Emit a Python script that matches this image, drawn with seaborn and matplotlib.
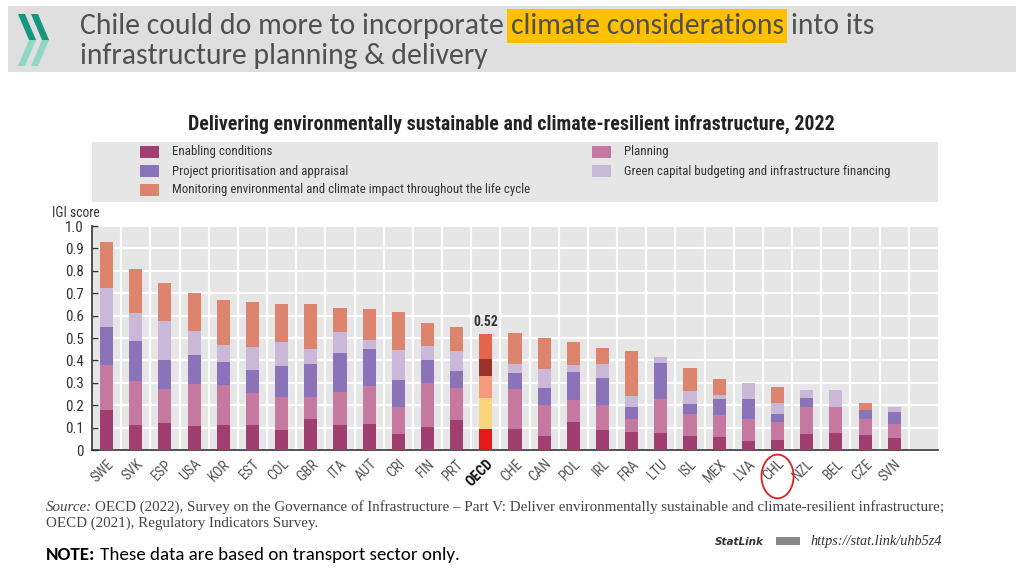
import numpy as np
import pandas as pd
import matplotlib
matplotlib.use("Agg")
import matplotlib.pyplot as plt
import matplotlib.font_manager as fm
from matplotlib.patches import Rectangle, Polygon, Ellipse
import seaborn as sns

# =========================
# DATA (IGI score components)
# =========================
countries = ["SWE", "SVK", "ESP", "USA", "KOR", "EST", "COL", "GBR", "ITA", "AUT",
             "CRI", "FIN", "PRT", "OECD", "CHE", "CAN", "POL", "IRL", "FRA", "LTU",
             "ISL", "MEX", "LVA", "CHL", "NZL", "BEL", "CZE", "SVN"]

enabling   = [0.180, 0.110, 0.120, 0.105, 0.113, 0.113, 0.090, 0.140, 0.110, 0.117,
              0.070, 0.102, 0.135, 0.093, 0.093, 0.064, 0.127, 0.090, 0.080, 0.077,
              0.062, 0.057, 0.040, 0.044, 0.072, 0.077, 0.068, 0.053]
planning   = [0.200, 0.200, 0.152, 0.190, 0.177, 0.142, 0.145, 0.095, 0.150, 0.170,
              0.123, 0.198, 0.140, 0.137, 0.179, 0.136, 0.095, 0.110, 0.060, 0.151,
              0.098, 0.098, 0.098, 0.079, 0.120, 0.113, 0.070, 0.061]
project    = [0.170, 0.177, 0.128, 0.130, 0.105, 0.100, 0.140, 0.148, 0.175, 0.165,
              0.121, 0.100, 0.078, 0.100, 0.072, 0.078, 0.128, 0.122, 0.053, 0.162,
              0.044, 0.073, 0.090, 0.039, 0.039, 0.000, 0.039, 0.057]
green      = [0.175, 0.123, 0.175, 0.105, 0.072, 0.105, 0.105, 0.067, 0.092, 0.038,
              0.134, 0.064, 0.090, 0.075, 0.042, 0.084, 0.029, 0.061, 0.047, 0.023,
              0.059, 0.018, 0.072, 0.050, 0.035, 0.076, 0.000, 0.019]
monitoring = [0.205, 0.200, 0.170, 0.170, 0.203, 0.200, 0.170, 0.200, 0.106, 0.140,
              0.170, 0.102, 0.105, 0.115, 0.138, 0.138, 0.101, 0.071, 0.203, 0.000,
              0.103, 0.072, 0.000, 0.069, 0.000, 0.000, 0.033, 0.000]

series_names = ["Enabling conditions", "Planning", "Project prioritisation and appraisal",
                "Green capital budgeting and infrastructure financing",
                "Monitoring environmental and climate impact throughout the life cycle"]
series_colors = ["#a13e70", "#c6799f", "#8a73b8", "#cab8d9", "#dc846d"]
oecd_colors = ["#e3191c", "#fdd57c", "#f69a7e", "#9c3328", "#e5644a"]

y_ticks = [0, 0.1, 0.2, 0.3, 0.4, 0.5, 0.6, 0.7, 0.8, 0.9, 1.0]
y_tick_labels = ["0", "0.1", "0.2", "0.3", "0.4", "0.5", "0.6", "0.7", "0.8", "0.9", "1.0"]

df = pd.DataFrame({"country": countries, "enabling": enabling, "planning": planning,
                   "project": project, "green": green, "monitoring": monitoring})
comp_cols = ["enabling", "planning", "project", "green", "monitoring"]
cum = df[comp_cols].cumsum(axis=1)

# =========================
# FONTS
# =========================
sns.set_theme(style="white")
installed = {f.name for f in fm.fontManager.ttflist}

def pick(options):
    for o in options:
        if o in installed:
            return o
    return "DejaVu Sans"

narrow = pick(["Liberation Sans Narrow", "Roboto Condensed", "Roboto"])
calibri = pick(["Carlito", "Lato", "Open Sans"])
serif = pick(["Liberation Serif", "DejaVu Serif"])
plt.rcParams["font.family"] = [narrow, "DejaVu Sans"]

W, H = 1024, 576
fig = plt.figure(figsize=(W / 100, H / 100), dpi=100)
fig.patch.set_facecolor("white")
renderer = fig.canvas.get_renderer()

def fx(x):
    return x / W

def fy(y):
    return 1 - y / H

def fit_size(s, width_px, **kw):
    t = fig.text(0, 0, s, fontsize=10, **kw)
    w = t.get_window_extent(renderer).width
    t.remove()
    return 10 * width_px / w

# =========================
# HEADER
# =========================
fig.add_artist(Rectangle((fx(8), fy(72)), fx(1008), 66 / H, transform=fig.transFigure,
                         facecolor="#dfdfdf", edgecolor="none", zorder=0))
# logo chevrons
for x0 in (18, 31):
    t, d, top, mid, bot = 7, 11, 14, 40, 66
    up = [(x0, top), (x0 + t, top), (x0 + t + d, mid), (x0 + d, mid)]
    lo = [(x0 + d, mid), (x0 + t + d, mid), (x0 + t, bot), (x0, bot)]
    fig.add_artist(Polygon([(fx(a), fy(b)) for a, b in up], closed=True,
                           transform=fig.transFigure, facecolor="#14967f", edgecolor="none"))
    fig.add_artist(Polygon([(fx(a), fy(b)) for a, b in lo], closed=True,
                           transform=fig.transFigure, facecolor="#8fd6c3", edgecolor="none"))

line1 = "Chile could do more to incorporate climate considerations into its"
hs = fit_size(line1, 793, family=calibri)
hcol = "#505050"
space_px = hs * 0.23 * 100 / 72
t1 = fig.text(fx(80), fy(34), "Chile could do more to incorporate", fontsize=hs,
              family=calibri, color=hcol, va="baseline")
fig.canvas.draw()
b1 = t1.get_window_extent(renderer)
t2 = fig.text(fx(b1.x1 + space_px), fy(34), "climate considerations", fontsize=hs,
              family=calibri, color=hcol, va="baseline",
              bbox=dict(boxstyle="square,pad=0.12", facecolor="#ffc000", edgecolor="none"))
b2 = t2.get_window_extent(renderer)
fig.text(fx(b2.x1 + space_px), fy(34), "into its", fontsize=hs, family=calibri,
         color=hcol, va="baseline")
fig.text(fx(80), fy(64), "infrastructure planning & delivery", fontsize=hs,
         family=calibri, color=hcol, va="baseline")

# =========================
# CHART TITLE + LEGEND
# =========================
title = "Delivering environmentally sustainable and climate-resilient infrastructure, 2022"
fig.text(fx(511), fy(124), title, ha="center", va="center", color="#222222",
         fontweight="bold", fontsize=fit_size(title, 645, fontweight="bold"))

fig.add_artist(Rectangle((fx(92), fy(202)), fx(846), 60 / H, transform=fig.transFigure,
                         facecolor="#e6e6e6", edgecolor="none", zorder=0))
leg_size = fit_size(series_names[4], 355)
leg_pos = [(140, 152), (592, 152), (140, 171), (592, 171), (140, 190)]
for (lx, ly), name, col in zip(leg_pos, series_names, series_colors):
    fig.add_artist(Rectangle((fx(lx), fy(ly + 6)), fx(19), 12 / H, transform=fig.transFigure,
                             facecolor=col, edgecolor="none"))
    fig.text(fx(lx + 32), fy(ly), name, va="center", fontsize=leg_size, color="#333333")

# =========================
# STACKED BARS
# =========================
ax = fig.add_axes([fx(92), fy(450), fx(846), 224 / H])
for i in reversed(range(len(comp_cols))):
    pal = {c: series_colors[i] for c in countries}
    pal["OECD"] = oecd_colors[i]
    sns.barplot(x=df["country"], y=cum.iloc[:, i], hue=df["country"], palette=pal,
                order=countries, hue_order=countries, width=0.45, saturation=1,
                linewidth=0, legend=False, ax=ax, zorder=3)

oecd_i = countries.index("OECD")
oecd_total = cum.iloc[oecd_i, -1]
ax.text(oecd_i, oecd_total + 0.02, f"{oecd_total:.2f}", ha="center", va="bottom",
        fontweight="bold", fontsize=leg_size + 0.5, color="#333333")

ax.set_facecolor("#e6e6e6")
ax.set_xlim(-0.5, len(countries) + 0.5)
ax.set_ylim(0, 1.0)
ax.set_xlabel("")
ax.set_ylabel("")
ax.set_yticks(y_ticks)
ax.set_yticklabels(y_tick_labels)
ax.set_xticks(range(len(countries)))
ax.set_xticklabels(countries, rotation=45, ha="right", rotation_mode="anchor")
ax.set_xticks(np.arange(0.5, len(countries), 1), minor=True)
ax.grid(False)
ax.grid(axis="y", which="major", color="white", linewidth=1.6, zorder=1)
ax.grid(axis="x", which="minor", color="white", linewidth=1.6, zorder=1)
ax.set_axisbelow(True)
ax.tick_params(axis="x", which="major", length=0, pad=5, labelsize=leg_size + 1,
               labelcolor="#555555")
ax.tick_params(axis="x", which="minor", direction="in", length=4, width=1, color="#333333")
ax.tick_params(axis="y", direction="in", length=4, width=1, color="#333333", pad=6,
               labelsize=leg_size + 1.5, labelcolor="#333333", left=True)
for lbl in ax.get_xticklabels():
    if lbl.get_text() == "OECD":
        lbl.set_fontweight("bold")
        lbl.set_color("#111111")
for s in ["top", "right"]:
    ax.spines[s].set_visible(False)
for s in ["left", "bottom"]:
    ax.spines[s].set_color("#333333")
    ax.spines[s].set_linewidth(1.2)

# circle around CHL
chl_i = countries.index("CHL")
ax.add_patch(Ellipse((chl_i, -0.118), 1.1, 0.195, transform=ax.get_xaxis_transform(),
                     facecolor="none", edgecolor="#e0201b", linewidth=1.3, clip_on=False))

fig.text(fx(52), fy(213), "IGI score", va="center", fontsize=leg_size + 0.5, color="#333333")

# =========================
# SOURCE / NOTE
# =========================
src1 = "Source: OECD (2022), Survey on the Governance of Infrastructure \u2013 Part V: Deliver environmentally sustainable and climate-resilient infrastructure;"
ss = fit_size(src1, 896, family=serif)
ts = fig.text(fx(46), fy(511), "Source:", family=serif, style="italic", fontsize=ss,
              color="#444444", va="baseline")
fig.canvas.draw()
bs = ts.get_window_extent(renderer)
fig.text(fx(bs.x1 + ss * 0.2 * 100 / 72), fy(511),
         "OECD (2022), Survey on the Governance of Infrastructure \u2013 Part V: Deliver environmentally sustainable and climate-resilient infrastructure;",
         family=serif, fontsize=ss, color="#444444", va="baseline")
fig.text(fx(46), fy(527), "OECD (2021), Regulatory Indicators Survey.", family=serif,
         fontsize=ss, color="#444444", va="baseline")

fig.text(fx(715), fy(545), "StatLink", family="DejaVu Sans", fontweight="bold",
         style="italic", fontsize=7.5, color="#333333", va="baseline")
fig.add_artist(Rectangle((fx(776), fy(545)), fx(24), 8 / H, transform=fig.transFigure,
                         facecolor="#888888", edgecolor="none"))
url = "https://stat.link/uhb5z4"
fig.text(fx(810), fy(545), url, family=serif, style="italic", color="#333333",
         fontsize=fit_size(url, 132, family=serif, style="italic"), va="baseline")

note_full = "NOTE: These data are based on transport sector only."
ns = fit_size(note_full, 414, family=calibri)
tn = fig.text(fx(46), fy(560), "NOTE:", family=calibri, fontweight="bold", fontsize=ns,
              color="black", va="baseline")
fig.canvas.draw()
bn = tn.get_window_extent(renderer)
fig.text(fx(bn.x1 + ns * 0.23 * 100 / 72), fy(560), "These data are based on transport sector only.",
         family=calibri, fontsize=ns, color="black", va="baseline")

fig.savefig("out.png", dpi=100)
